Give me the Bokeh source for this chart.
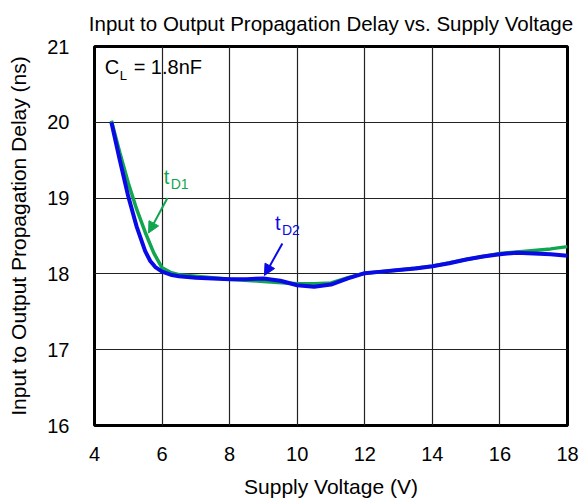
from bokeh.plotting import figure
from bokeh.models import Label, Arrow, NormalHead, FixedTicker, Title
from bokeh.embed import file_html
from bokeh.resources import INLINE

# Data
x_td2 = [4.5, 4.75, 5.0, 5.25, 5.5, 5.65, 5.8, 6.0, 6.25, 6.5, 7, 7.5, 8, 8.5, 9, 9.5, 10, 10.5, 11, 11.5,
         12, 12.5, 13, 13.5, 14, 14.5, 15, 15.5, 16, 16.5, 17, 17.5, 18]
y_td2 = [20.0, 19.5, 19.02, 18.62, 18.3, 18.17, 18.09, 18.03, 17.99, 17.97, 17.95, 17.94, 17.93, 17.93, 17.94,
         17.91, 17.85, 17.83, 17.86, 17.94, 18.01, 18.03, 18.05, 18.07, 18.1, 18.14, 18.19, 18.23,
         18.26, 18.28, 18.27, 18.26, 18.24]
x_td1 = [4.5, 4.75, 5.0, 5.25, 5.5, 5.75, 6.0, 6.25, 6.5, 7, 8, 9, 10, 10.5, 11, 11.5, 12, 13, 14,
         15, 16, 16.5, 17, 17.5, 18]
y_td1 = [20.02, 19.6, 19.2, 18.85, 18.55, 18.28, 18.08, 18.02, 17.99, 17.97, 17.93, 17.9, 17.87,
         17.87, 17.88, 17.95, 18.01, 18.05, 18.1, 18.19, 18.27, 18.29, 18.31, 18.33, 18.36]
x_ticks = [4, 6, 8, 10, 12, 14, 16, 18]
y_ticks = [16, 17, 18, 19, 20, 21]
title_text = "Input to Output Propagation Delay vs. Supply Voltage"

FONT = "Liberation Sans"
GREEN = "#12a550"
BLUE = "#0a0ae6"

p = figure(width=583, height=501, x_range=(4, 18), y_range=(16, 21),
           output_backend="svg", toolbar_location=None,
           min_border_left=94, min_border_right=16, min_border_top=46, min_border_bottom=76)

p.title.text = title_text
p.title.align = "center"
p.title.text_font = FONT
p.title.text_font_size = "20.5px"
p.title.text_font_style = "normal"
p.title.text_color = "black"
p.title.offset = 0
p.title.standoff = 0

# invisible spacer between title and frame, lifting the title
p.add_layout(Title(text=" ", text_font=FONT, text_font_size="9px", standoff=0), "above")

for ax in (p.xaxis[0], p.yaxis[0]):
    ax.major_label_text_font = FONT
    ax.major_label_text_font_size = "20px"
    ax.major_label_text_color = "black"
    ax.axis_label_text_font = FONT
    ax.axis_label_text_font_size = "21px"
    ax.axis_label_text_font_style = "normal"
    ax.axis_label_text_color = "black"
    ax.axis_line_color = None
    ax.major_tick_line_color = None
    ax.minor_tick_line_color = None

p.xaxis.ticker = FixedTicker(ticks=x_ticks)
p.yaxis.ticker = FixedTicker(ticks=y_ticks)
p.xaxis.axis_label = "Supply Voltage (V)"
p.yaxis.axis_label = "Input to Output Propagation Delay (ns)"
p.xaxis.major_label_standoff = 15
p.yaxis.major_label_standoff = 19
p.xaxis.axis_label_standoff = 11
p.yaxis.axis_label_standoff = 14

p.xgrid.ticker = FixedTicker(ticks=x_ticks)
p.ygrid.ticker = FixedTicker(ticks=y_ticks)
p.grid.grid_line_color = "#222222"
p.grid.grid_line_width = 1.2

p.outline_line_color = "black"
p.outline_line_width = 3

p.line(x_td1, y_td1, line_color=GREEN, line_width=3.5)
p.line(x_td2, y_td2, line_color=BLUE, line_width=4)

# annotations
p.add_layout(Label(x=4.3, y=20.59, text="C", text_font=FONT, text_font_size="20px", text_color="black"))
p.add_layout(Label(x=4.3, y=20.59, x_offset=15, y_offset=-5, text="L", text_font=FONT,
                   text_font_size="13px", text_color="black"))
p.add_layout(Label(x=4.3, y=20.59, x_offset=29, text="= 1.8nF", text_font=FONT,
                   text_font_size="20px", text_color="black"))

p.add_layout(Label(x=6.05, y=19.13, text="t", text_font=FONT, text_font_size="20px", text_color=GREEN))
p.add_layout(Label(x=6.05, y=19.13, x_offset=7, y_offset=-4, text="D1", text_font=FONT,
                   text_font_size="14px", text_color=GREEN))
p.add_layout(Arrow(x_start=6.16, y_start=19.0, x_end=5.6, y_end=18.54, line_color=GREEN, line_width=2,
                   end=NormalHead(size=11, fill_color=GREEN, line_color=GREEN)))

p.add_layout(Label(x=9.34, y=18.53, text="t", text_font=FONT, text_font_size="20px", text_color=BLUE))
p.add_layout(Label(x=9.34, y=18.53, x_offset=7, y_offset=-4, text="D2", text_font=FONT,
                   text_font_size="14px", text_color=BLUE))
p.add_layout(Arrow(x_start=9.56, y_start=18.40, x_end=9.03, y_end=17.98, line_color=BLUE, line_width=2,
                   end=NormalHead(size=11, fill_color=BLUE, line_color=BLUE)))

open("out.html", "w").write(file_html(p, INLINE))
